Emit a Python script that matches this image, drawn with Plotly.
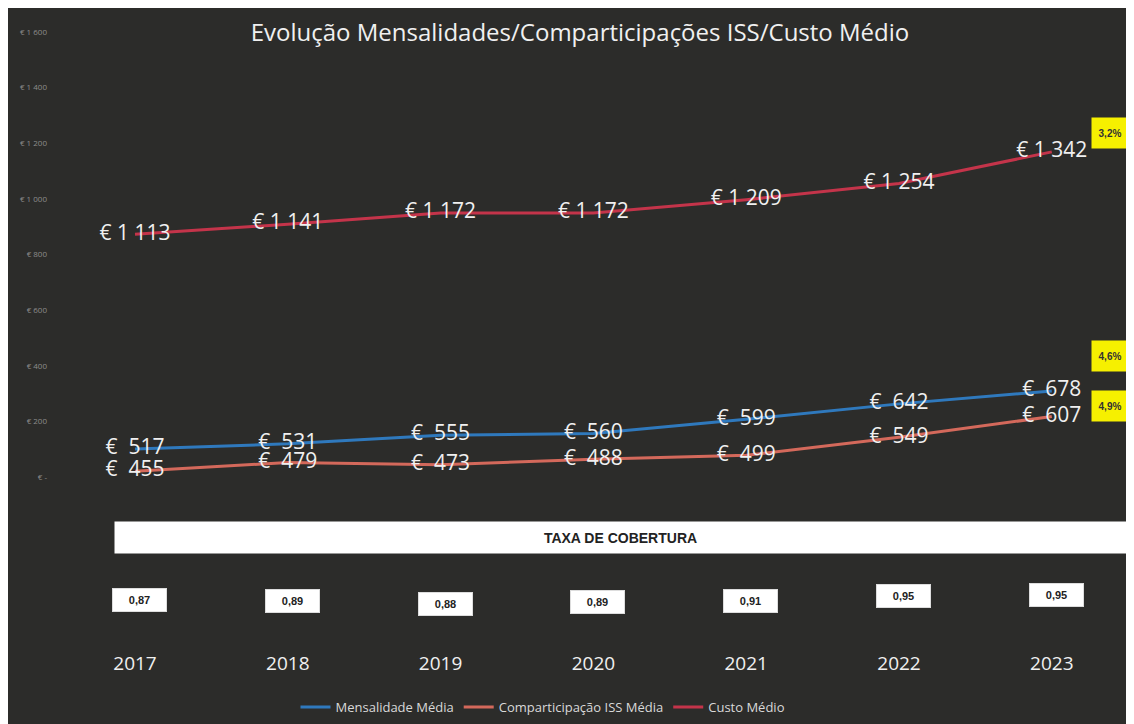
import plotly.graph_objects as go

# ---------------- data ----------------
years = [2017, 2018, 2019, 2020, 2021, 2022, 2023]
mensalidade = [517, 531, 555, 560, 599, 642, 678]
comparticipacao = [455, 479, 473, 488, 499, 549, 607]
custo = [1113, 1141, 1172, 1172, 1209, 1254, 1342]
taxa_cobertura = ["0,87", "0,89", "0,88", "0,89", "0,91", "0,95", "0,95"]
var_labels = ["3,2%", "4,6%", "4,9%"]          # custo, mensalidade, comparticipação
axis_ticks = [0, 200, 400, 600, 800, 1000, 1200, 1400, 1600]
axis_ticktext = ["€ -", "€ 200", "€ 400", "€ 600", "€ 800", "€ 1 000", "€ 1 200", "€ 1 400", "€ 1 600"]

NB = "\u00a0"


def eur(v):
    s = f"{v:,}".replace(",", NB)
    return "€" + NB + s if v >= 1000 else "€" + NB + NB + s


# ---------------- layout geometry ----------------
# the page body has an 8px margin: figure pixel = page pixel - 8
OFF = 8
W, H = 1134, 724
L = 48 - OFF
T = 10 - OFF
BOTTOM = 650 - OFF
B = H - BOTTOM
PH = BOTTOM - T
PW = W - L


def py(p):      # page pixel y -> paper y
    return (BOTTOM - (p - OFF)) / PH


def px(p):      # page pixel x -> paper x
    return ((p - OFF) - L) / PW


BG = "#2c2c2a"
C_BLUE = "#2f79bd"
C_COMP = "#d4695b"
C_COST = "#c4344a"
FONT = "Open Sans"
NARROW = "Liberation Sans Narrow, Liberation Sans"

fig = go.Figure()

series = [
    ("Mensalidade Média", mensalidade, C_BLUE),
    ("Comparticipação ISS Média", comparticipacao, C_COMP),
    ("Custo Médio", custo, C_COST),
]
for name, vals, col in series:
    fig.add_trace(go.Scatter(
        x=years, y=vals, name=name, mode="lines+text",
        line=dict(color=col, width=3),
        text=[eur(v) for v in vals], textposition="middle center",
        textfont=dict(family=FONT, size=21, color="#f0f0f0"),
        yaxis="y2", hoverinfo="x+y",
    ))

# invisible trace so the left (label-only) axis is drawn
fig.add_trace(go.Scatter(x=[years[0]], y=[0], mode="markers", marker=dict(opacity=0),
                         showlegend=False, hoverinfo="skip", yaxis="y"))

# page-pixel scales: data y = 635 - 0.36 v ; tick labels y = 477 - 0.278 v
s_data, a_data = 0.36, 635 - OFF
s_tick, a_tick = 445 / 1600, 477 - OFF
x_step = 152.8
x_first = 135 - OFF
x0 = years[0] - (x_first - L) / x_step
x1 = x0 + PW / x_step

fig.update_layout(
    width=W, height=H,
    margin=dict(l=L, r=0, t=T, b=B),
    paper_bgcolor=BG, plot_bgcolor=BG,
    font=dict(family=FONT, color="#f0f0f0"),
    title=dict(text="Evolução Mensalidades/Comparticipações ISS/Custo Médio",
               x=(580 - OFF) / W, xanchor="center", y=1 - (33 - OFF) / H, yanchor="middle",
               yref="container", font=dict(family=FONT, size=24, color="#f0f0f0")),
    xaxis=dict(range=[x0, x1], tickvals=years, ticktext=[str(y) for y in years],
               showgrid=False, zeroline=False, showline=False, ticks="",
               tickfont=dict(family=FONT, size=19, color="#f0f0f0")),
    yaxis=dict(range=[(a_tick - BOTTOM) / s_tick, (a_tick - T) / s_tick],
               tickvals=axis_ticks, ticktext=axis_ticktext,
               showgrid=False, zeroline=False, showline=False, ticks="",
               tickfont=dict(family=FONT, size=8, color="#8c8c8c")),
    yaxis2=dict(range=[(a_data - BOTTOM) / s_data, (a_data - T) / s_data],
                overlaying="y", visible=False),
    legend=dict(orientation="h", x=px(543), xanchor="center", y=py(707), yanchor="middle",
                font=dict(family=FONT, size=13, color="#d9d9d9"), bgcolor="rgba(0,0,0,0)",
                itemwidth=30),
    showlegend=True,
)

ann = []
# TAXA DE COBERTURA bar
ann.append(dict(xref="paper", yref="paper", x=px((115 + 1126) / 2), y=py(537.5),
                xanchor="center", yanchor="middle",
                text="<b>TAXA DE COBERTURA</b>", showarrow=False,
                width=1126 - 115, height=31, bgcolor="white", borderpad=0,
                font=dict(family=NARROW, size=14, color="#222222")))
# coverage ratio boxes
box_y = [600, 601, 604, 602, 601, 596, 595]
for yr, t, by in zip(years, taxa_cobertura, box_y):
    ann.append(dict(xref="x", yref="paper", x=yr + 0.03, y=py(by), text=f"<b>{t}</b>",
                    xanchor="center", yanchor="middle",
                    showarrow=False, width=53, height=22, bgcolor="white", borderpad=0,
                    bordercolor="#dddddd", borderwidth=1,
                    font=dict(family=NARROW, size=11, color="#222222")))
# yellow variation boxes
for t, cy in zip(var_labels, [133, 356, 406]):
    ann.append(dict(xref="paper", yref="paper", x=px(1110), y=py(cy), text=f"<b>{t}</b>",
                    xanchor="center", yanchor="middle",
                    showarrow=False, width=36, height=30, bgcolor="#f6f000", borderpad=0,
                    font=dict(family=NARROW, size=10, color="#333333")))
fig.update_layout(annotations=ann)

fig.write_html("out.html")
